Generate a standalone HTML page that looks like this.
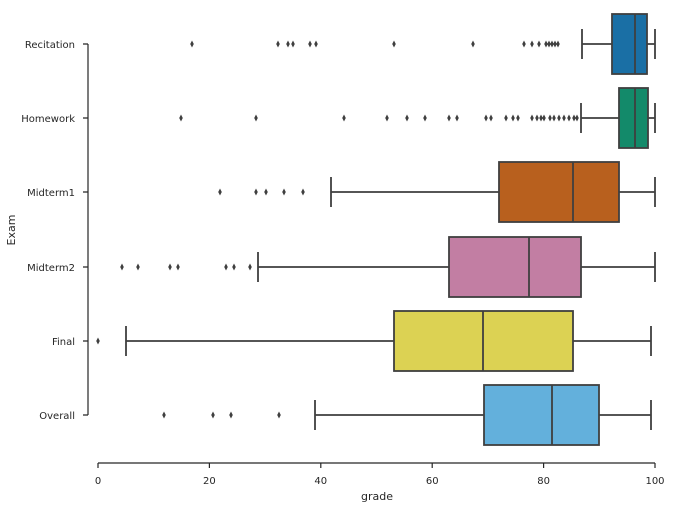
<!DOCTYPE html>
<html><head><style>body{margin:0;background:#fff}svg{display:block;font-family:"DejaVu Sans","Liberation Sans",sans-serif}</style></head>
<body>
<svg width="673" height="508" xmlns="http://www.w3.org/2000/svg" xmlns:xlink="http://www.w3.org/1999/xlink">
<defs><path id="d" d="M0 -3.5L1.8 0L0 3.5L-1.8 0Z" fill="#3f3f3f"/></defs>
<g stroke="#262626" stroke-width="1.2" fill="none">
<line x1="88" y1="44" x2="88" y2="415"/>
<line x1="98" y1="463" x2="655" y2="463"/>
<path d="M83 44H88M83 118H88M83 192H88M83 267H88M83 341H88M83 415H88"/>
<path d="M98 463V468M209.4 463V468M320.8 463V468M432.2 463V468M543.6 463V468M655 463V468"/>
</g>
<g font-size="10" fill="#262626" text-anchor="end">
<text x="75" y="48">Recitation</text><text x="75" y="122">Homework</text><text x="75" y="196">Midterm1</text>
<text x="75" y="271">Midterm2</text><text x="75" y="345">Final</text><text x="75" y="419">Overall</text>
</g>
<g font-size="10" fill="#262626" text-anchor="middle">
<text x="98" y="484">0</text><text x="209.4" y="484">20</text><text x="320.8" y="484">40</text>
<text x="432.2" y="484">60</text><text x="543.6" y="484">80</text><text x="655" y="484">100</text>
<text x="377" y="500" font-size="11">grade</text>
<text transform="translate(15,230) rotate(-90)" font-size="11">Exam</text>
</g>
<g stroke="#3f3f3f" stroke-width="1.8">
<path d="M582 44H612M647 44H655M582 29V59M655 29V59" fill="none"/>
<rect x="612" y="14" width="35" height="60" fill="#1a6fa5"/><path d="M635 14V74"/>
<path d="M581 118H619M648 118H655M581 103V133M655 103V133" fill="none"/>
<rect x="619" y="88" width="29" height="60" fill="#138a6a"/><path d="M635 88V148"/>
<path d="M331 192H499M619 192H655M331 177V207M655 177V207" fill="none"/>
<rect x="499" y="162" width="120" height="60" fill="#b8601e"/><path d="M573 162V222"/>
<path d="M258 267H449M581 267H655M258 252V282M655 252V282" fill="none"/>
<rect x="449" y="237" width="132" height="60" fill="#c27ea3"/><path d="M529 237V297"/>
<path d="M126 341H394M573 341H651M126 326V356M651 326V356" fill="none"/>
<rect x="394" y="311" width="179" height="60" fill="#dcd253"/><path d="M483 311V371"/>
<path d="M315 415H484M599 415H651M315 400V430M651 400V430" fill="none"/>
<rect x="484" y="385" width="115" height="60" fill="#63b0dc"/><path d="M552 385V445"/>
</g>
<g>
<use xlink:href="#d" x="192" y="44"/><use xlink:href="#d" x="278" y="44"/><use xlink:href="#d" x="288" y="44"/><use xlink:href="#d" x="293" y="44"/><use xlink:href="#d" x="310" y="44"/><use xlink:href="#d" x="316" y="44"/><use xlink:href="#d" x="394" y="44"/><use xlink:href="#d" x="473" y="44"/><use xlink:href="#d" x="524" y="44"/><use xlink:href="#d" x="532" y="44"/><use xlink:href="#d" x="539" y="44"/><use xlink:href="#d" x="546" y="44"/><use xlink:href="#d" x="549" y="44"/><use xlink:href="#d" x="552" y="44"/><use xlink:href="#d" x="555" y="44"/><use xlink:href="#d" x="558" y="44"/>
<use xlink:href="#d" x="181" y="118"/><use xlink:href="#d" x="256" y="118"/><use xlink:href="#d" x="344" y="118"/><use xlink:href="#d" x="387" y="118"/><use xlink:href="#d" x="407" y="118"/><use xlink:href="#d" x="425" y="118"/><use xlink:href="#d" x="449" y="118"/><use xlink:href="#d" x="457" y="118"/><use xlink:href="#d" x="486" y="118"/><use xlink:href="#d" x="491" y="118"/><use xlink:href="#d" x="506" y="118"/><use xlink:href="#d" x="513" y="118"/><use xlink:href="#d" x="518" y="118"/><use xlink:href="#d" x="532" y="118"/><use xlink:href="#d" x="537" y="118"/><use xlink:href="#d" x="541" y="118"/><use xlink:href="#d" x="544" y="118"/><use xlink:href="#d" x="550" y="118"/><use xlink:href="#d" x="554" y="118"/><use xlink:href="#d" x="559" y="118"/><use xlink:href="#d" x="564" y="118"/><use xlink:href="#d" x="569" y="118"/><use xlink:href="#d" x="574" y="118"/><use xlink:href="#d" x="577" y="118"/>
<use xlink:href="#d" x="220" y="192"/><use xlink:href="#d" x="256" y="192"/><use xlink:href="#d" x="266" y="192"/><use xlink:href="#d" x="284" y="192"/><use xlink:href="#d" x="303" y="192"/>
<use xlink:href="#d" x="122" y="267"/><use xlink:href="#d" x="138" y="267"/><use xlink:href="#d" x="170" y="267"/><use xlink:href="#d" x="178" y="267"/><use xlink:href="#d" x="226" y="267"/><use xlink:href="#d" x="234" y="267"/><use xlink:href="#d" x="250" y="267"/>
<use xlink:href="#d" x="98" y="341"/>
<use xlink:href="#d" x="164" y="415"/><use xlink:href="#d" x="213" y="415"/><use xlink:href="#d" x="231" y="415"/><use xlink:href="#d" x="279" y="415"/>
</g>
</svg>
</body></html>
